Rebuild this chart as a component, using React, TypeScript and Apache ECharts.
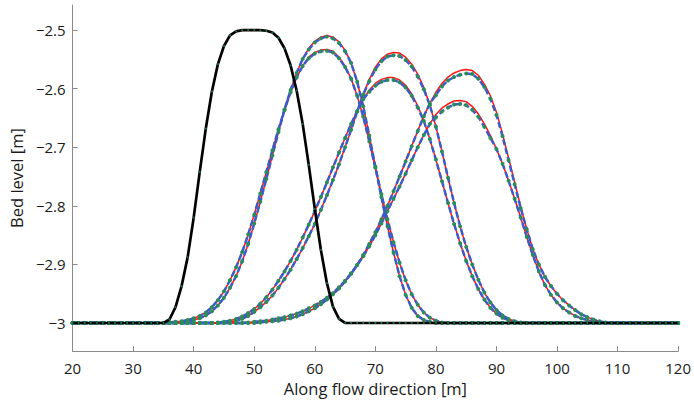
import React, { useEffect, useRef } from "react";
import * as echarts from "echarts";

// ---------- data ----------
const X_START = 20;
const X_END = 120;
const BED = -3; // flat bed level outside each hump
const Y_TICKS = [-3, -2.9, -2.8, -2.7, -2.6, -2.5];

// initial hump (black), x = 35 .. 65 step 1
const BLACK_START = 35;
const BLACK = [
  -3.0, -2.994, -2.973, -2.937, -2.888, -2.82, -2.742, -2.668, -2.605, -2.558,
  -2.527, -2.509, -2.502, -2.5, -2.5, -2.5, -2.5, -2.501, -2.504, -2.513,
  -2.531, -2.56, -2.603, -2.66, -2.73, -2.805, -2.875, -2.932, -2.972, -2.993,
  -3.0,
];

// time 1, case 1 (higher crest), x = 36 .. 80
const A1_START = 36;
const A1_RED = [
  -3.0, -2.999, -2.998, -2.997, -2.995, -2.992, -2.987, -2.98, -2.97, -2.957,
  -2.94, -2.92, -2.895, -2.865, -2.83, -2.793, -2.754, -2.714, -2.674, -2.636,
  -2.602, -2.573, -2.549, -2.531, -2.519, -2.512, -2.509, -2.512, -2.52, -2.534,
  -2.556, -2.588, -2.63, -2.68, -2.733, -2.785, -2.835, -2.88, -2.92, -2.952,
  -2.974, -2.988, -2.995, -2.998, -3.0,
];
const A1_CREST_START = 59;
const A1_CREST = [-2.533, -2.521, -2.514, -2.511, -2.514, -2.522, -2.536];

// time 1, case 2 (lower crest), x = 36 .. 82
const A2_START = 36;
const A2_RED = [
  -2.999, -2.998, -2.997, -2.995, -2.992, -2.988, -2.982, -2.973, -2.961, -2.946,
  -2.927, -2.905, -2.879, -2.849, -2.815, -2.779, -2.742, -2.705, -2.669, -2.636,
  -2.606, -2.581, -2.561, -2.546, -2.538, -2.534, -2.533, -2.536, -2.546, -2.561,
  -2.583, -2.612, -2.648, -2.69, -2.735, -2.78, -2.823, -2.862, -2.897, -2.927,
  -2.951, -2.969, -2.982, -2.991, -2.996, -2.999, -3.0,
];
const A2_CREST_START = 59;
const A2_CREST = [-2.548, -2.54, -2.536, -2.535, -2.538, -2.548, -2.563];

// time 2, case 1, x = 44 .. 94
const B1_START = 44;
const B1_RED = [
  -3.0, -2.999, -2.998, -2.996, -2.993, -2.988, -2.981, -2.973, -2.964, -2.953,
  -2.94, -2.925, -2.909, -2.891, -2.872, -2.852, -2.831, -2.807, -2.782, -2.756,
  -2.729, -2.7, -2.67, -2.639, -2.61, -2.584, -2.563, -2.549, -2.541, -2.538,
  -2.539, -2.546, -2.558, -2.575, -2.598, -2.628, -2.665, -2.707, -2.752, -2.795,
  -2.835, -2.87, -2.9, -2.926, -2.948, -2.965, -2.978, -2.987, -2.993, -2.997,
  -2.999,
];
const B1_CREST_START = 69;
const B1_CREST = [-2.587, -2.567, -2.553, -2.545, -2.543, -2.544, -2.551, -2.562, -2.579, -2.601];

// time 2, case 2, x = 44 .. 94
const B2_START = 44;
const B2_RED = [
  -2.999, -2.998, -2.996, -2.993, -2.989, -2.983, -2.976, -2.967, -2.956, -2.943,
  -2.928, -2.912, -2.894, -2.875, -2.854, -2.832, -2.809, -2.785, -2.76, -2.734,
  -2.709, -2.684, -2.66, -2.638, -2.618, -2.602, -2.591, -2.584, -2.581, -2.581,
  -2.585, -2.594, -2.609, -2.629, -2.655, -2.686, -2.721, -2.758, -2.795, -2.831,
  -2.864, -2.894, -2.92, -2.942, -2.96, -2.974, -2.984, -2.991, -2.995, -2.998,
  -3.0,
];
const B2_CREST_START = 69;
const B2_CREST = [-2.605, -2.595, -2.588, -2.585, -2.585, -2.589, -2.598, -2.612, -2.632];

// time 3, case 1, x = 50 .. 109
const C1_START = 50;
const C1_RED = [
  -3.0, -2.999, -2.998, -2.997, -2.996, -2.994, -2.992, -2.989, -2.985, -2.98,
  -2.975, -2.968, -2.96, -2.951, -2.941, -2.929, -2.916, -2.901, -2.884, -2.865,
  -2.845, -2.823, -2.8, -2.775, -2.75, -2.724, -2.698, -2.672, -2.647, -2.625,
  -2.606, -2.591, -2.58, -2.573, -2.569, -2.567, -2.569, -2.577, -2.592, -2.612,
  -2.64, -2.677, -2.718, -2.76, -2.801, -2.84, -2.874, -2.9, -2.921, -2.937,
  -2.95, -2.961, -2.97, -2.978, -2.985, -2.99, -2.994, -2.997, -2.999, -3.0,
];
const C1_CREST_START = 80;
const C1_CREST = [
  -2.611, -2.596, -2.586, -2.58, -2.576, -2.574, -2.575, -2.583, -2.597, -2.617,
  -2.645, -2.681, -2.722, -2.763, -2.804,
];

// time 3, case 2, x = 48 .. 108
const C2_START = 48;
const C2_RED = [
  -3.0, -2.999, -2.998, -2.997, -2.996, -2.994, -2.992, -2.99, -2.987, -2.984,
  -2.98, -2.975, -2.97, -2.964, -2.957, -2.949, -2.939, -2.928, -2.915, -2.901,
  -2.886, -2.869, -2.85, -2.83, -2.809, -2.788, -2.767, -2.745, -2.722, -2.7,
  -2.679, -2.66, -2.644, -2.633, -2.626, -2.621, -2.62, -2.622, -2.63, -2.643,
  -2.66, -2.68, -2.703, -2.728, -2.757, -2.788, -2.82, -2.853, -2.884, -2.912,
  -2.935, -2.952, -2.965, -2.975, -2.982, -2.988, -2.992, -2.995, -2.997, -2.999,
  -3.0,
];
const C2_CREST_START = 80;
const C2_CREST = [-2.649, -2.639, -2.632, -2.627, -2.626, -2.628, -2.636, -2.648, -2.665, -2.684];

// ---------- helpers ----------
function profile(start: number, values: number[], crestStart?: number, crest?: number[]) {
  const pts: number[][] = [];
  for (let x = X_START; x <= X_END; x++) {
    let y = BED;
    const i = x - start;
    if (i >= 0 && i < values.length) y = values[i];
    if (crest && crestStart !== undefined) {
      const j = x - crestStart;
      if (j >= 0 && j < crest.length) y = crest[j];
    }
    pts.push([x, y]);
  }
  return pts;
}

const HUMPS = [
  { name: "A1", start: A1_START, red: A1_RED, cs: A1_CREST_START, crest: A1_CREST },
  { name: "A2", start: A2_START, red: A2_RED, cs: A2_CREST_START, crest: A2_CREST },
  { name: "B1", start: B1_START, red: B1_RED, cs: B1_CREST_START, crest: B1_CREST },
  { name: "B2", start: B2_START, red: B2_RED, cs: B2_CREST_START, crest: B2_CREST },
  { name: "C1", start: C1_START, red: C1_RED, cs: C1_CREST_START, crest: C1_CREST },
  { name: "C2", start: C2_START, red: C2_RED, cs: C2_CREST_START, crest: C2_CREST },
];

const RED = "#ff1414";
const BLUE = "#3b5bc6";
const GREEN = "#2a8c5a";
const AXIS = "#8a8a8a";
const TEXT = "#1a1a1a";
const FONT = "'Open Sans', 'Noto Sans', sans-serif";

function fmt(v: number) {
  const r = Math.round(v * 10) / 10;
  return (r < 0 ? "\u2212" : "") + String(Math.abs(r));
}

export default function App() {
  const ref = useRef<HTMLDivElement>(null);

  useEffect(() => {
    if (!ref.current) return;
    const chart = echarts.init(ref.current, undefined, { renderer: "svg" });

    const series: any[] = [];
    HUMPS.forEach((h) => {
      series.push({
        name: h.name + " red",
        type: "line",
        data: profile(h.start, h.red),
        symbol: "none",
        lineStyle: { color: RED, width: 1.5 },
        z: 2,
      });
    });
    HUMPS.forEach((h) => {
      series.push({
        name: h.name + " blue",
        type: "line",
        data: profile(h.start, h.red, h.cs, h.crest),
        symbol: "none",
        lineStyle: { color: BLUE, width: 2.5, type: [6, 3] },
        z: 3,
      });
    });
    HUMPS.forEach((h) => {
      series.push({
        name: h.name + " green",
        type: "line",
        data: profile(h.start, h.red, h.cs, h.crest),
        symbol: "circle",
        symbolSize: 4,
        showSymbol: true,
        itemStyle: { color: GREEN, borderWidth: 0 },
        lineStyle: { width: 0, opacity: 0 },
        z: 4,
      });
    });
    series.push({
      name: "initial",
      type: "line",
      data: profile(BLACK_START, BLACK),
      symbol: "circle",
      symbolSize: 2,
      showSymbol: true,
      itemStyle: { color: "#1f6e45", borderWidth: 0 },
      lineStyle: { color: "#000", width: 2.7 },
      z: 5,
    });

    chart.setOption({
      animation: false,
      grid: { left: 68, right: 15, top: 5, bottom: 46, containLabel: false },
      xAxis: {
        type: "value",
        min: 20,
        max: 120,
        interval: 10,
        axisLine: { show: true, lineStyle: { color: AXIS, width: 1 } },
        axisTick: { show: true, inside: true, length: 5, lineStyle: { color: AXIS } },
        axisLabel: { color: TEXT, fontSize: 15, fontFamily: FONT, margin: 9 },
        splitLine: { show: false },
        name: "Along flow direction [m]",
        nameLocation: "middle",
        nameGap: 25,
        nameTextStyle: { color: TEXT, fontSize: 16.5, fontFamily: FONT },
      },
      yAxis: {
        type: "value",
        min: -3.048,
        max: -2.457,
        axisLine: { show: true, lineStyle: { color: AXIS, width: 1 } },
        axisTick: {
          show: true,
          inside: true,
          length: 5,
          lineStyle: { color: AXIS },
          customValues: Y_TICKS,
        },
        axisLabel: {
          color: TEXT,
          fontSize: 15,
          fontFamily: FONT,
          margin: 7,
          customValues: Y_TICKS,
          formatter: (v: number) => fmt(v),
        },
        splitLine: { show: false },
        name: "Bed level [m]",
        nameLocation: "middle",
        nameGap: 45,
        nameTextStyle: { color: TEXT, fontSize: 16.5, fontFamily: FONT },
      },
      series,
    });

    return () => chart.dispose();
  }, []);

  return (
    <div
      ref={ref}
      style={{ position: "fixed", left: 0, top: 0, width: 694, height: 402, background: "#fff" }}
    />
  );
}
